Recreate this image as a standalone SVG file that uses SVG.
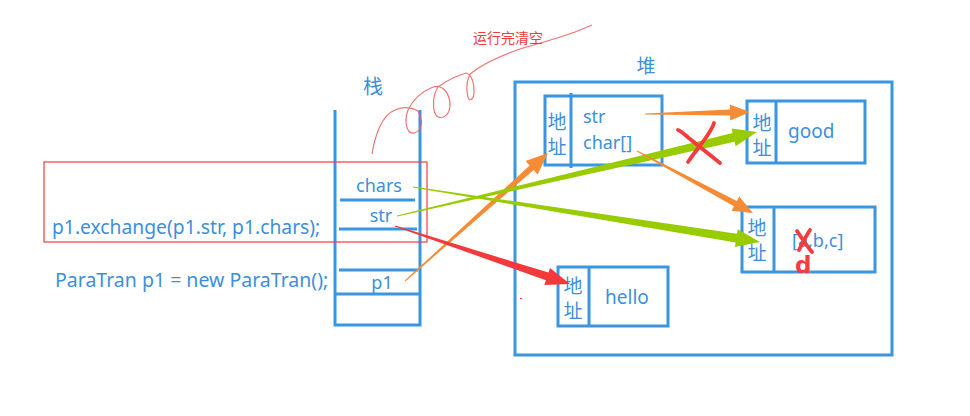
<svg xmlns="http://www.w3.org/2000/svg" width="970" height="416" viewBox="0 0 970 416">
<style>
.ln{stroke:#3a96e0;stroke-width:3;fill:none}
.bx{stroke:#3a96e0;stroke-width:3;fill:#fff}
.t{font-family:"Noto Sans","Noto Sans CJK SC",sans-serif;fill:#3d8fdc}
.cj{font-family:"Noto Sans CJK SC",sans-serif;fill:#3d8fdc;font-size:19px;text-anchor:middle}
.mk{stroke:#f53b3b;stroke-width:3.8;fill:none;stroke-linecap:round;stroke-linejoin:round}
</style>
<rect width="970" height="416" fill="#fff"/>

<g id="heap">
<rect class="ln" x="515" y="82" width="377" height="273"/>
<text class="cj" x="646" y="73">堆</text>
</g>

<g id="stack">
<path class="ln" d="M335,110V325H420V110M335,294H420M340,200H415M339,229H417M339,270H418"/>
<text class="cj" x="373" y="94" style="font-size:20px">栈</text>
<text class="t" x="379" y="192" font-size="18" text-anchor="middle">chars</text>
<text class="t" x="381" y="222" font-size="18" text-anchor="middle">str</text>
<text class="t" x="382" y="289" font-size="18" text-anchor="middle">p1</text>
</g>

<g id="code">
<rect x="44" y="162" width="383" height="80" fill="none" stroke="#f03c3c" stroke-width="1.2"/>
<text class="t" x="52" y="234" font-size="19.3">p1.exchange(p1.str, p1.chars);</text>
<text class="t" x="55" y="287" font-size="19.5">ParaTran p1 = new ParaTran();</text>
</g>

<g id="obj-p1">
<rect class="bx" x="545" y="96" width="117" height="69"/>
<path class="ln" d="M571,93V168"/>
<text class="cj" x="557" y="129">地</text>
<text class="cj" x="557" y="154">址</text>
<text class="t" x="583" y="123" font-size="18">str</text>
<text class="t" x="583" y="149" font-size="18">char[]</text>
</g>

<g id="obj-good">
<rect class="bx" x="747" y="101" width="118" height="62"/>
<path class="ln" d="M776,101V163"/>
<text class="cj" x="762" y="130">地</text>
<text class="cj" x="762" y="155">址</text>
<text class="t" x="788" y="138" font-size="19">good</text>
</g>

<g id="obj-abc">
<rect class="bx" x="742" y="207" width="133" height="65"/>
<path class="ln" d="M774,207V272"/>
<text class="cj" x="757" y="235">地</text>
<text class="cj" x="757" y="260">址</text>
<text class="t" x="792" y="247" font-size="18">[a,b,c]</text>
</g>

<g id="obj-hello">
<rect class="bx" x="558" y="267" width="110" height="59"/>
<path class="ln" d="M589,267V326"/>
<text class="cj" x="573" y="293">地</text>
<text class="cj" x="573" y="318">址</text>
<text class="t" x="627" y="304" font-size="19" text-anchor="middle">hello</text>
</g>

<g id="connectors">
<polygon fill="#f68b36" points="405.3,281.4 533.6,169.9 537.6,174.4 548,153 525.6,161 529.6,165.5 404.7,280.6"/>
<polygon fill="#f4393c" points="394.8,226.5 545.9,280.2 544.4,284.9 570,284 550,267.9 548.5,272.6 395.2,225.5"/>
<polygon fill="#99cc00" points="412.9,187.5 735.6,242.6 734.9,247.1 760,242 737.7,229.3 737,233.8 413.1,186.5"/>
<polygon fill="#99cc00" points="397.1,216.5 734.6,141.8 735.6,146.2 757,132 731.6,128.6 732.6,133 396.9,215.5"/>
<polygon fill="#f68b36" points="645,114.5 730.1,115.4 730.2,120.4 750,112 729.8,104.4 729.9,109.4 645,113.5"/>
<polygon fill="#f68b36" points="636.8,151.4 734,206.2 731.6,210.7 753,213 739.2,196.5 736.8,201 637.2,150.6"/>
</g>

<g id="annotations">
<path d="M372,154C375,135 382,115 395,110C402,107 411,107 418,111C423,119 423,131 414,133C406,134 404,120 408,110C413,99 421,92 433,87C443,84 450,94 450,105C450,114 444,119 438,117C432,113 432,96 438,87C446,81 456,76 466,73C472,75 474,84 474,92C474,100 469,102 468,97C466,89 467,80 470,74C480,66 495,58 517,50C536,44 556,39 575,32L592,25" fill="none" stroke="#f05a5a" stroke-width="1.2" stroke-opacity="0.85"/>
<text x="473" y="43" font-family="'Noto Sans CJK SC',sans-serif" font-size="14" fill="#f03c3c">运行完清空</text>
<path class="mk" d="M678,130C681,131 684,134 690,139C700,147 710,155 720,163M714,123C712,130 703,142 696,151C692,156 690,159 688,162"/>
<path class="mk" d="M797,231C801,237 806,245 812,252M810,230C806,236 802,244 799,250"/>
<text x="795" y="273" font-family="'DejaVu Sans',sans-serif" font-weight="bold" font-size="23" fill="#f53b3b">d</text>
<rect x="520" y="298" width="2" height="1" fill="#f03c3c"/>
</g>
</svg>
